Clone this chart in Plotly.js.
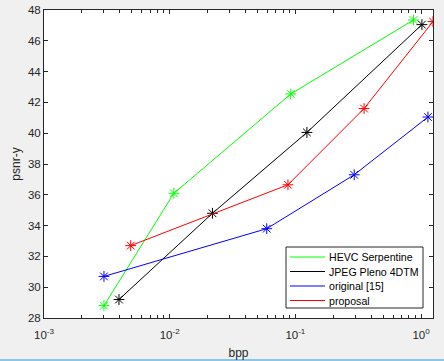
<!DOCTYPE html>
<html>
<head>
<meta charset="utf-8">
<script src="https://cdn.plot.ly/plotly-3.0.1.min.js"></script>
<style>
  body { margin: 0; background: #f0f0f0; }
  #plot { width: 444px; height: 361px; }
</style>
</head>
<body>
<div id="plot"></div>
<script>
// rate-distortion points
const seriesNames = ["HEVC Serpentine", "JPEG Pleno 4DTM", "original [15]", "proposal"];
const seriesColors = ["#00ff00", "#000000", "#0000ff", "#ff0000"];

const hevcBpp = [0.003, 0.0108, 0.092, 0.87];
const hevcPsnr = [28.8, 36.1, 42.55, 47.35];

const plenoBpp = [0.00395, 0.0219, 0.1236, 1.016];
const plenoPsnr = [29.2, 34.8, 40.05, 47.05];

const origBpp = [0.003, 0.0592, 0.294, 1.135];
const origPsnr = [30.7, 33.8, 37.3, 41.05];

const propBpp = [0.0049, 0.0873, 0.352, 1.245];
const propPsnr = [32.7, 36.65, 41.6, 47.25];

const xTickVals = [0.001, 0.01, 0.1, 1];
const xTickText = ["10<sup>-3</sup>", "10<sup>-2</sup>", "10<sup>-1</sup>", "10<sup>0</sup>"];
const yTickVals = [28, 30, 32, 34, 36, 38, 40, 42, 44, 46, 48];

const allX = [hevcBpp, plenoBpp, origBpp, propBpp];
const allY = [hevcPsnr, plenoPsnr, origPsnr, propPsnr];

// minor ticks for the log axis
let minorVals = [];
[0.001, 0.01, 0.1].forEach(d => {
  for (let k = 2; k <= 9; k++) minorVals.push(k * d);
});

let traces = [];
for (let i = 0; i < seriesNames.length; i++) {
  traces.push({
    x: allX[i],
    y: allY[i],
    name: seriesNames[i],
    type: "scatter",
    mode: "lines+markers",
    line: {color: seriesColors[i], width: 1},
    marker: {symbol: "asterisk-open", size: 9, line: {color: seriesColors[i], width: 1}},
    showlegend: false,
    hoverinfo: "skip"
  });
}

// plot area in pixels, used to place the hand made legend
const L = 44, R = 11, T = 10, B = 43, W = 444, H = 361;
const pw = W - L - R, ph = H - T - B;
const px = v => (v - L) / pw;
const py = v => (H - B - v) / ph;

let shapes = [];
let annotations = [];

// legend box
shapes.push({
  type: "rect", xref: "paper", yref: "paper",
  x0: px(286), x1: px(423), y0: py(308), y1: py(247),
  line: {color: "#262626", width: 1}, fillcolor: "#ffffff"
});
seriesNames.forEach((name, i) => {
  let rowY = 257 + i * 14.5;
  shapes.push({
    type: "line", xref: "paper", yref: "paper",
    x0: px(290), x1: px(325), y0: py(rowY), y1: py(rowY),
    line: {color: seriesColors[i], width: 1}
  });
  annotations.push({
    xref: "paper", yref: "paper", x: px(327), y: py(rowY),
    xanchor: "left", yanchor: "middle", showarrow: false,
    text: name, font: {size: 10.6, color: "#000000"}
  });
});

// blue window edge at the bottom
shapes.push({
  type: "line", xref: "paper", yref: "paper",
  x0: px(0), x1: px(444), y0: py(360), y1: py(360),
  line: {color: "#8cc4ec", width: 2}
});

const layout = {
  width: W,
  height: H,
  margin: {l: L, r: R, t: T, b: B, pad: 0},
  paper_bgcolor: "#f0f0f0",
  plot_bgcolor: "#ffffff",
  font: {family: "Liberation Sans, Arial, sans-serif", size: 11.5, color: "#262626"},
  showlegend: false,
  xaxis: {
    type: "log",
    range: [-3, Math.log10(1.245)],
    tickmode: "array",
    tickvals: xTickVals,
    ticktext: xTickText,
    ticks: "inside",
    ticklen: 4,
    tickcolor: "#262626",
    ticklabelstandoff: 6,
    showline: true,
    linecolor: "#262626",
    linewidth: 1,
    mirror: "ticks",
    showgrid: false,
    zeroline: false,
    minor: {tickmode: "array", tickvals: minorVals, ticks: "inside", ticklen: 3, tickcolor: "#262626", showgrid: false},
    title: {text: "bpp", font: {size: 12, color: "#262626"}, standoff: 8},
    tickfont: {size: 11.5, color: "#262626"}
  },
  yaxis: {
    range: [28, 48],
    tickmode: "array",
    tickvals: yTickVals,
    ticks: "inside",
    ticklen: 4,
    tickcolor: "#262626",
    showline: true,
    linecolor: "#262626",
    linewidth: 1,
    mirror: "ticks",
    showgrid: false,
    zeroline: false,
    title: {text: "psnr-y", font: {size: 12, color: "#262626"}, standoff: 4},
    tickfont: {size: 11.5, color: "#262626"}
  },
  shapes: shapes,
  annotations: annotations
};

Plotly.newPlot("plot", traces, layout, {staticPlot: true, displayModeBar: false});
</script>
</body>
</html>
